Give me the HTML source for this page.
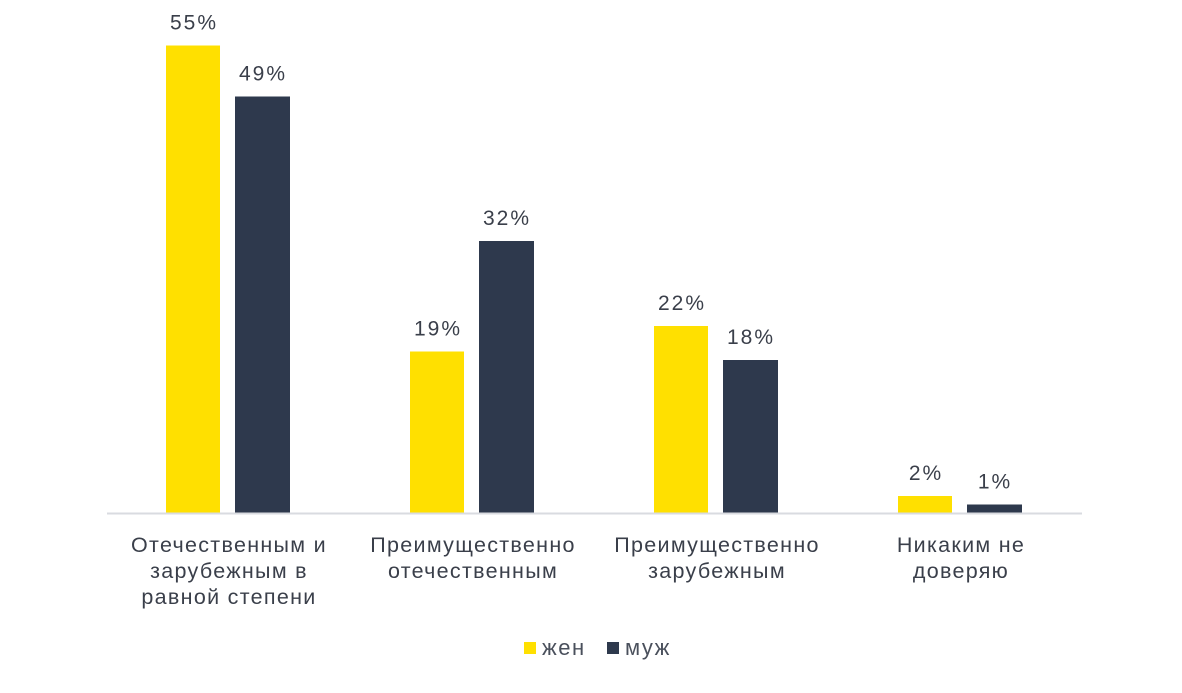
<!DOCTYPE html>
<html><head><meta charset="utf-8"><style>
body{margin:0;background:#fff;width:1182px;height:688px;overflow:hidden;font-family:"Liberation Sans",sans-serif}
svg text{font-family:"Liberation Sans",sans-serif}
</style></head><body>
<svg id="chart" width="1182" height="688" xmlns="http://www.w3.org/2000/svg"></svg>
<script>
const categories = [["Отечественным и","зарубежным в","равной степени"],["Преимущественно","отечественным"],["Преимущественно","зарубежным"],["Никаким не","доверяю"]];
const women = [55, 19, 22, 2];
const men = [49, 32, 18, 1];
const seriesNames = ["жен", "муж"];

const svg = document.getElementById('chart');
const NS = 'http://www.w3.org/2000/svg';
const baseY = 513, pxPer = 8.5, groupStart = 228, groupStep = 244, barW = 54;
const colors = ["#FFE000", "#2E394D"];
function y(v){ return baseY - v * pxPer; }
function gx(i){ return groupStart + i * groupStep; }
function mk(tag, attrs){ const e = document.createElementNS(NS, tag); for (const k in attrs) e.setAttribute(k, attrs[k]); svg.appendChild(e); return e; }

[women, men].forEach((series, s) => {
  series.forEach((v, i) => {
    const x = s === 0 ? gx(i) - 62 : gx(i) + 7;
    const r = mk('rect', {x: x, y: y(v), width: barW + (s ? 1 : 0), height: v * pxPer, fill: colors[s]});
    
    
    const t = mk('text', {x: x + barW / 2 + 1, y: y(v) - 16, 'text-anchor': 'middle', 'font-size': 21, 'letter-spacing': 2, fill: '#3a3f4a'});
    t.textContent = v + '%';
    
    
  });
});

const ax = mk('line', {x1: 107, x2: 1082, y1: baseY + 0.5, y2: baseY + 0.5, stroke: '#d9dbe0', 'stroke-width': 2});



categories.forEach((lines, i) => {
  lines.forEach((ln, j) => {
    const t = mk('text', {x: gx(i) + 1, y: 552 + j * 26, 'text-anchor': 'middle', 'font-size': 21.5, 'letter-spacing': 1.3, fill: '#3a3f4a'});
    t.textContent = ln;
    
    
  });
});

const legX = [524, 607];
seriesNames.forEach((n, s) => {
  const r = mk('rect', {x: legX[s], y: 642, width: 12, height: 12, fill: colors[s]});
  
  
  const t = mk('text', {x: legX[s] + 18, y: 655, 'font-size': 22, 'letter-spacing': 1.5, fill: '#4a505c'});
  t.textContent = n;
  
  
});
</script>
</body></html>
